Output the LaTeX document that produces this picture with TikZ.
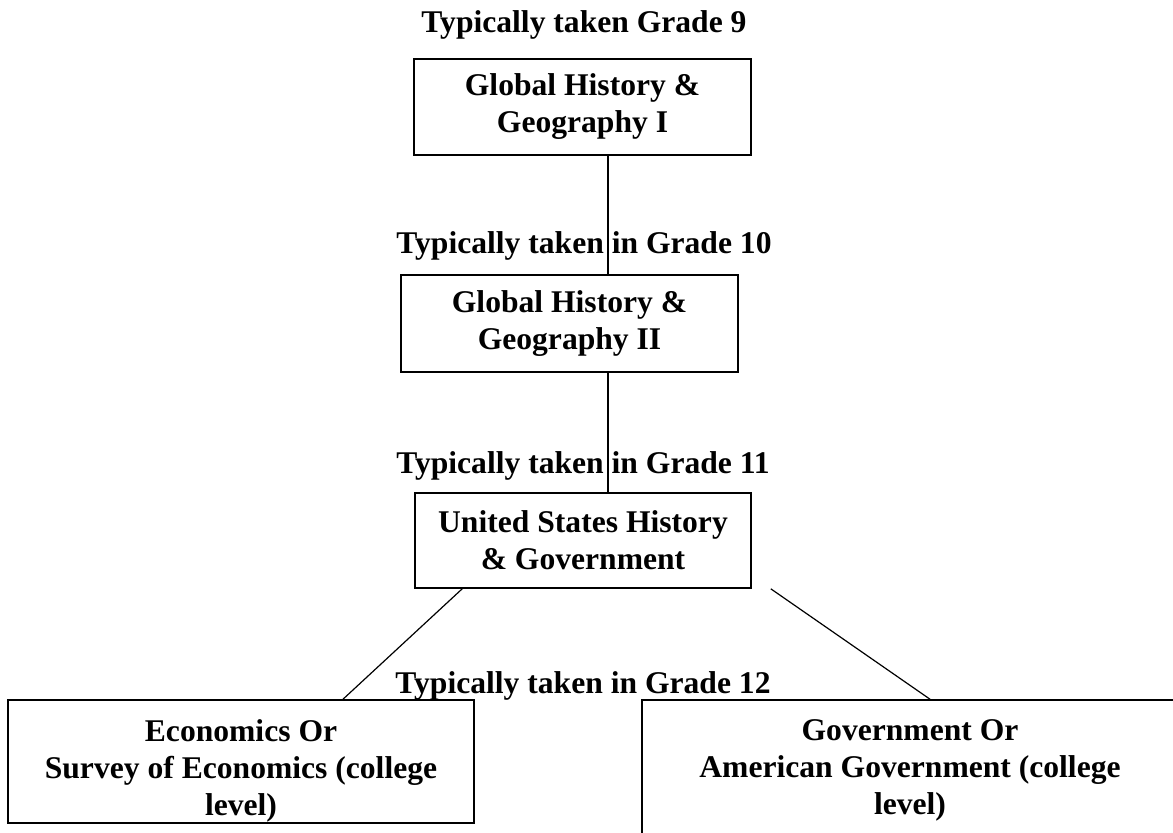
\documentclass[tikz,border=0pt]{standalone}
\usepackage{fontspec}
\setmainfont{Liberation Serif}
\usetikzlibrary{positioning,calc}

\begin{document}
\begin{tikzpicture}[x=0.5pt,y=-0.5pt,
  every node/.style={font=\fontsize{15.8}{18.5}\selectfont\bfseries,align=center},
  course/.style={draw,line width=0.8pt,inner sep=0pt},
  gradelabel/.style={anchor=base,inner sep=0pt},
  link/.style={line width=0.6pt}]
  \useasboundingbox (0,0) rectangle (1173,832);
  \clip (0,0) rectangle (1173,832);
  % grade labels
  \node[gradelabel] (t9) at (584,32) {Typically taken Grade 9};
  \node[gradelabel] (t10) at (584,253) {Typically taken in Grade 10};
  \node[gradelabel] (t11) at (583,473) {Typically taken in Grade 11};
  \node[gradelabel] (t12) at (583,693) {Typically taken in Grade 12};
  % courses
  \node[course,minimum width=168.5pt,minimum height=48pt] (g1) at (582.5,107) {Global History \&\\Geography I};
  \node[course,minimum width=168.5pt,minimum height=48.5pt] (g2) at (569.5,323.5) {Global History \&\\Geography II};
  \node[course,minimum width=168pt,minimum height=47.5pt] (us) at (583,540.5) {United States History\\\& Government};
  \node[course,minimum width=233pt,minimum height=61.5pt] (econ) at (241,761.5) {};
  \node[course,minimum width=268pt,minimum height=70pt] (gov) at (910,770) {};
  \node[anchor=north,inner sep=0pt] (econtxt) at (241,719) {Economics Or\\Survey of Economics (college\\level)};
  \node[anchor=north,inner sep=0pt] (govtxt) at (910,719) {Government Or\\American Government (college\\level)};
  % connectors
  \coordinate (spine) at (608,0);
  \draw[link] (g1.south -| spine) -- (g2.north -| spine);
  \draw[link] (g2.south -| spine) -- (us.north -| spine);
  \draw[link] ($(us.south west)+(48,0)$) -- ($(econ.north)+(102,0)$);
  \draw[link] ($(us.south east)+(19,0)$) -- ($(gov.north)+(20,0)$);
\end{tikzpicture}
\end{document}
